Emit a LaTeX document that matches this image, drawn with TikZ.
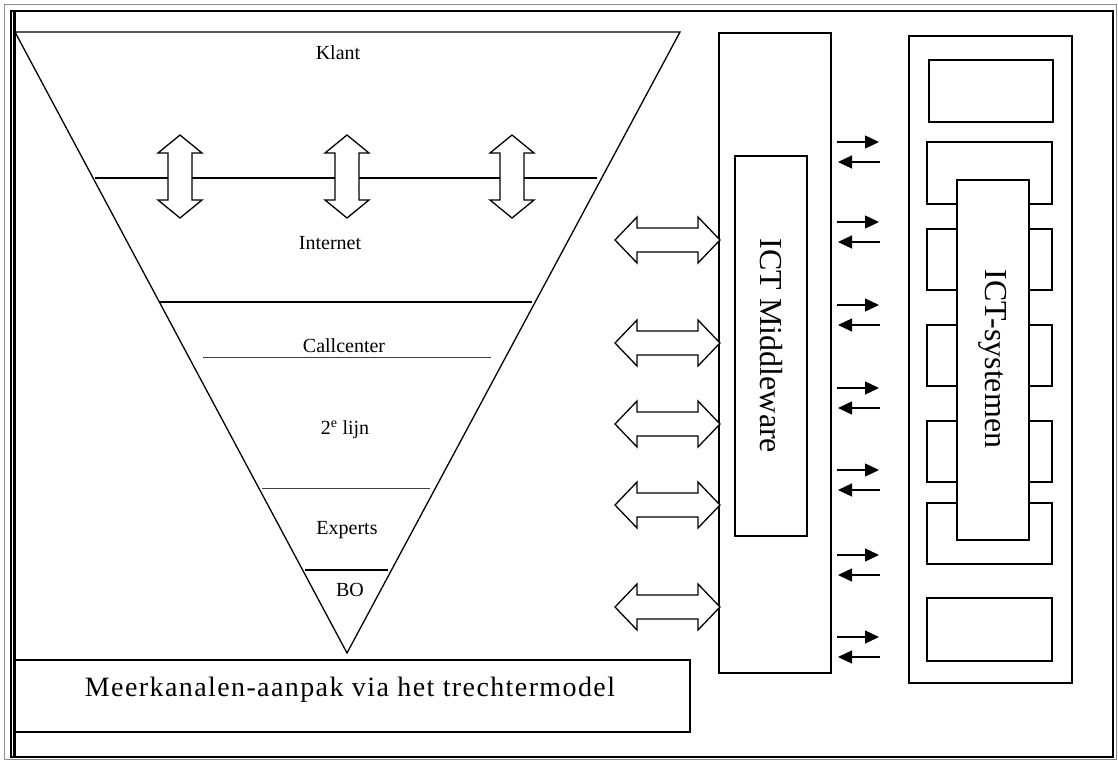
\documentclass[tikz,border=0pt]{standalone}
\usepackage{fontspec}
\setmainfont{Liberation Serif}
\newfontfamily\spacedserif[LetterSpace=5]{Liberation Serif}
\usetikzlibrary{arrows.meta}
\tikzset{
  ln/.style={line width=1.3pt, black},
  thinln/.style={line width=0.8pt, black!75},
  lbl/.style={font=\fontsize{20}{22}\selectfont, inner sep=0pt},
  bigl/.style={font=\spacedserif\fontsize{28}{30}\selectfont, inner sep=0pt},
  vlbl/.style={font=\fontsize{32}{35}\selectfont, inner sep=0pt, rotate=-90},
  boxx/.style={ln, fill=white},
  smallarr/.style={line width=1.3pt, -{Triangle[length=14pt,width=13pt]}},
  hdarrow/.pic={\draw[ln, fill=white] (-52.5,0) -- (-30.5,-23) -- (-30.5,-12) -- (30.5,-12) -- (30.5,-23) -- (52.5,0) -- (30.5,23) -- (30.5,12) -- (-30.5,12) -- (-30.5,23) -- cycle;},
  vdarrow/.pic={\draw[ln, fill=white] (0,-41.5) -- (-22,-23.5) -- (-12,-23.5) -- (-12,23.5) -- (-22,23.5) -- (0,41.5) -- (22,23.5) -- (12,23.5) -- (12,-23.5) -- (22,-23.5) -- cycle;}
}
\begin{document}
\begin{tikzpicture}[x=1pt, y=-1pt]
\useasboundingbox (0,0) rectangle (1118,761);
% page frame
\draw[line width=0.8pt, black!45] (4.5,4.5) rectangle (1116,759.5);
\draw[line width=1.1pt] (11,11) rectangle (1113,757);
\draw[line width=2.6pt] (11,11) -- (1113,11);
\draw[line width=3pt] (14.5,11) -- (14.5,757);
% funnel
\coordinate (ftl) at (15,32);
\coordinate (ftr) at (680,32);
\coordinate (fap) at (347,653);
\draw[ln] (ftl) -- (ftr) -- (fap) -- cycle;
\coordinate (l1a) at (95,178);  \coordinate (l1b) at (597,178);
\coordinate (l2a) at (160,302); \coordinate (l2b) at (532,302);
\coordinate (l3a) at (203,357); \coordinate (l3b) at (491,357);
\coordinate (l4a) at (262,488); \coordinate (l4b) at (430,488);
\coordinate (l5a) at (305,570); \coordinate (l5b) at (388,570);
\draw[ln] (l1a) -- (l1b);
\draw[ln] (l2a) -- (l2b);
\draw[thinln] (l3a) -- (l3b);
\draw[thinln] (l4a) -- (l4b);
\draw[ln, line width=1.8pt] (l5a) -- (l5b);
\pic at (180,176.5) {vdarrow};
\pic at (347,176.5) {vdarrow};
\pic at (512,176.5) {vdarrow};
\node[lbl] (klant) at (338,53) {Klant};
\node[lbl] (internet) at (330,243) {Internet};
\node[lbl] (callc) at (344,346) {Callcenter};
\node[lbl] (tweede) at (345,430) {2\textsuperscript{e} lijn};
\node[lbl] (experts) at (347,530) {Experts};
\node[lbl] (bo) at (350,590) {BO};
% caption box
\draw[ln] (15,660) rectangle (690,732);
\node[bigl] (caption) at (350,690) {Meerkanalen-aanpak via het trechtermodel};
% middleware
\draw[ln] (719,33) rectangle (831,673);
\draw[ln] (735,156) rectangle (807,536);
\node[vlbl] (mw) at (771,346) {ICT Middleware};
% double arrows to middleware
\foreach \yy in {240,343,424,505,607} {\pic at (667.5,\yy) {hdarrow};}
% small arrows
\foreach \yy [count=\i] in {142,222,305,388,470,555,637} {
  \coordinate (ra\i s) at (837,\yy);
  \coordinate (ra\i e) at (879,\yy);
  \coordinate (la\i s) at (880,\yy+20);
  \coordinate (la\i e) at (838,\yy+20);
  \draw[smallarr] (ra\i s) -- (ra\i e);
  \draw[smallarr] (la\i s) -- (la\i e);
}
% ICT systems
\draw[ln] (909,36) rectangle (1072,683);
\draw[boxx] (929,60) rectangle (1053,122);
\foreach \ya/\yb in {142/204,229/290,325/386,421/482,503/564} {
  \draw[boxx] (927,\ya) rectangle (1052,\yb);
}
\draw[boxx] (927,598) rectangle (1052,661);
\draw[boxx] (957,180) rectangle (1029,540);
\node[vlbl] (sys) at (993,359) {ICT-systemen};
\end{tikzpicture}
\end{document}
